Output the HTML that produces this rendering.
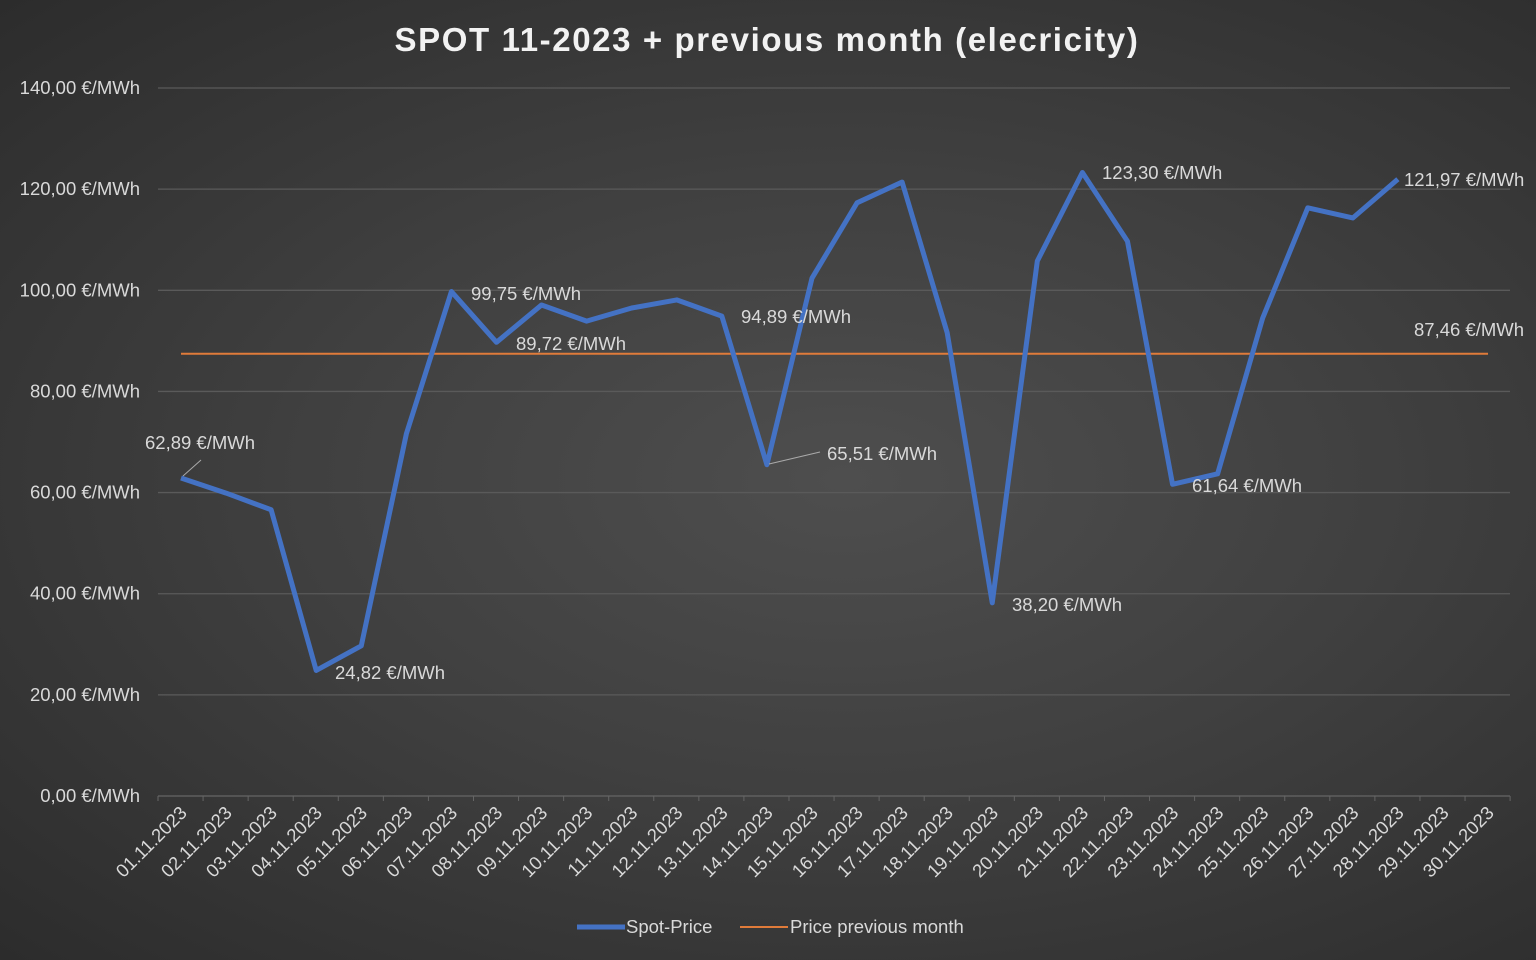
<!DOCTYPE html>
<html><head><meta charset="utf-8"><style>
html,body{margin:0;padding:0;width:1536px;height:960px;overflow:hidden}
body{background:radial-gradient(ellipse at 55% 50%,#4e4e4e 0%,#404040 45%,#2c2c2c 100%);font-family:"Liberation Sans","DejaVu Sans",sans-serif}
svg{position:absolute;left:0;top:0}
</style></head><body>
<svg id="c" width="1536" height="960" xmlns="http://www.w3.org/2000/svg"></svg>
<script>
const s=document.getElementById('c');
const data=[62.89,59.9,56.6,24.82,29.7,71.6,99.75,89.72,97.1,93.9,96.5,98.1,94.89,65.51,102.4,117.3,121.4,91.6,38.2,105.8,123.3,109.7,61.64,63.7,94.5,116.3,114.3,121.97];
const X=i=>181+i*45.07, Y=v=>796-v*5.057;
let h='<text x="767" y="51" text-anchor="middle" font-size="33" font-weight="bold" fill="#f2f2f2" letter-spacing="1.6">SPOT 11-2023 + previous month (elecricity)</text>';
for(let k=0;k<=7;k++){const y=Y(k*20);
 if(k>0)h+=`<line x1="158" x2="1510" y1="${y}" y2="${y}" stroke="#5a5a5a" stroke-width="1.3"/>`;
 h+=`<text x="140" y="${y+6}" text-anchor="end" font-size="18.5" fill="#d9d9d9">${(k*20).toFixed(2).replace('.',',')} €/MWh</text>`;}
h+=`<line x1="158" x2="1510" y1="796" y2="796" stroke="#666" stroke-width="1.3"/>`;
for(let i=0;i<=30;i++){const x=158+i*45.07;h+=`<line x1="${x}" x2="${x}" y1="796" y2="801" stroke="#666"/>`;}
for(let i=0;i<30;i++){const x=X(i)+7;const d=String(i+1).padStart(2,'0')+'.11.2023';
 h+=`<text transform="translate(${x},814) rotate(-45)" text-anchor="end" font-size="18.5" fill="#d9d9d9">${d}</text>`;}
h+=`<line x1="181" x2="${X(29)}" y1="${Y(87.46)}" y2="${Y(87.46)}" stroke="#e07b3a" stroke-width="2"/>`;
h+=`<polyline fill="none" stroke="#4472c4" stroke-width="5" stroke-linejoin="round" points="${data.map((v,i)=>X(i)+','+Y(v)).join(' ')}"/>`;
const L=[[145,449,'62,89 €/MWh'],[335,679,'24,82 €/MWh'],[471,300,'99,75 €/MWh'],[516,350,'89,72 €/MWh'],[741,323,'94,89 €/MWh'],[827,460,'65,51 €/MWh'],[1012,611,'38,20 €/MWh'],[1102,179,'123,30 €/MWh'],[1192,492,'61,64 €/MWh'],[1404,186,'121,97 €/MWh'],[1414,336,'87,46 €/MWh']];
L.forEach(l=>h+=`<text x="${l[0]}" y="${l[1]}" font-size="18.5" fill="#d9d9d9">${l[2]}</text>`);
h+=`<line x1="183" y1="476" x2="201" y2="460" stroke="#aaa"/><line x1="769" y1="464" x2="820" y2="452" stroke="#aaa"/>`;
h+=`<line x1="577" x2="625" y1="927" y2="927" stroke="#4472c4" stroke-width="5"/><text x="626" y="933" font-size="18.5" fill="#d9d9d9">Spot-Price</text>`;
h+=`<line x1="740" x2="788" y1="927" y2="927" stroke="#e07b3a" stroke-width="2"/><text x="790" y="933" font-size="18.5" fill="#d9d9d9">Price previous month</text>`;
s.innerHTML=h;
</script>
</body></html>
